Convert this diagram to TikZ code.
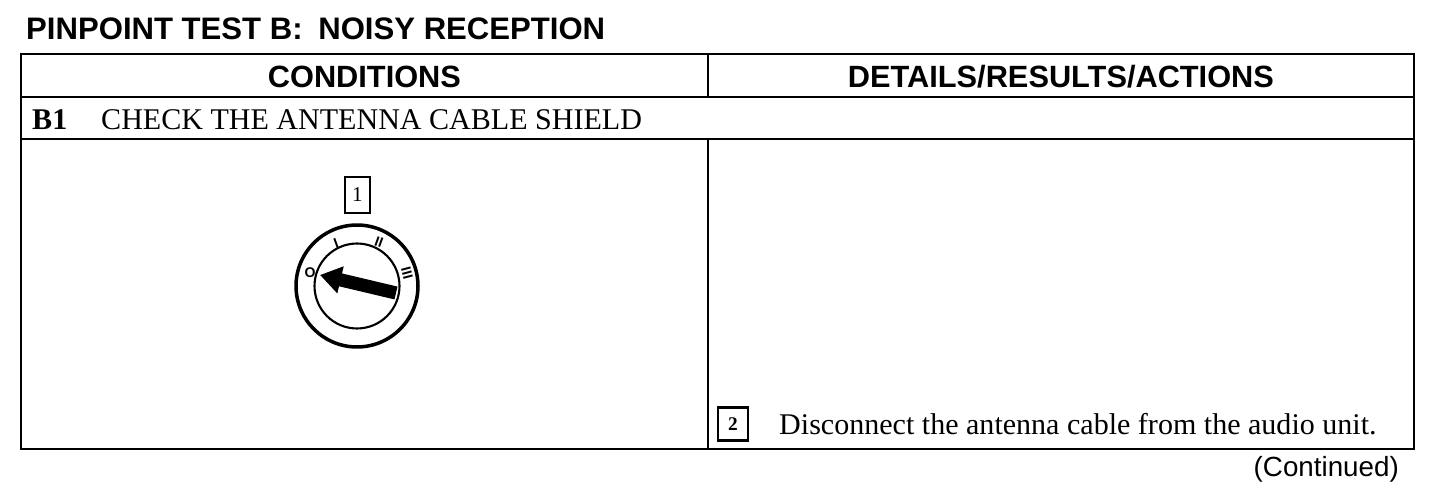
\documentclass[tikz,border=0pt]{standalone}
\usepackage{fontspec}
\setmainfont{Liberation Serif}
\setsansfont{Liberation Sans}
\usetikzlibrary{positioning,arrows.meta}
\begin{document}
\begin{tikzpicture}[x=0.02cm, y=-0.02cm, line width=1.4pt]
    \tikzstyle{cell}=[draw, anchor=north west, inner sep=0pt, outer sep=0pt]
    \tikzstyle{headtxt}=[font=\sffamily\bfseries\fontsize{17.5}{20}\selectfont, text height=14.2pt, text depth=0pt]
    \tikzstyle{bodytxt}=[font=\fontsize{17.1}{20}\selectfont, inner sep=0pt]
    \tikzstyle{numbox}=[draw, line width=1.2pt, inner sep=0pt, font=\fontsize{11}{12}\selectfont\bfseries]
    \tikzstyle{dialmark}=[inner sep=0pt, font=\sffamily\fontsize{8}{9}\selectfont\bfseries]

    \useasboundingbox (0,0) rectangle (1440,500);

    \node[font=\sffamily\bfseries\fontsize{17.7}{20}\selectfont, anchor=west, inner sep=0pt] (title) at (25,29) {PINPOINT TEST B:\hspace{4pt} NOISY RECEPTION};

    \node[cell, minimum width=13.74cm, minimum height=0.86cm, headtxt] (condhead) at (21,54) {CONDITIONS};
    \node[cell, minimum width=14.12cm, minimum height=0.86cm, headtxt] (detailhead) at (708,54) {DETAILS/RESULTS/ACTIONS};
    \node[cell, minimum width=27.86cm, minimum height=0.84cm] (steprow) at (21,97) {};
    \node[cell, minimum width=13.74cm, minimum height=6.2cm] (condcell) at (21,139) {};
    \node[cell, minimum width=14.12cm, minimum height=6.2cm] (detailcell) at (708,139) {};

    \node[bodytxt, anchor=west] (stepid) at (31,120) {\textbf{B1}};
    \node[bodytxt, anchor=west] (steptxt) at (100,120) {CHECK THE ANTENNA CABLE SHIELD};

    \node[numbox, minimum width=0.5cm, minimum height=0.72cm, font=\fontsize{12}{13}\selectfont] (numone) at (357.5,195) {1};

    % ignition key dial
    \node[circle, draw, line width=2pt, minimum size=2.44cm] (dialouter) at (357,286) {};
    \node[circle, draw, line width=1.2pt, minimum size=1.7cm] (dialinner) at (357,286) {};
    \coordinate (keytail) at (396,293);
    \coordinate (keytip) at (320,275);
    \draw[line width=7.5pt, {-Triangle[width=15pt, length=12pt]}] (keytail) -- (keytip);
    \node[dialmark] (markoff) at (310,273) {O};
    \node[dialmark, rotate=20] (markone) at (336,243) {I};
    \node[dialmark, rotate=-20] (marktwo) at (379,242) {II};
    \node[dialmark, rotate=-75] (markthree) at (407,273) {III};

    \node[numbox, minimum width=0.6cm, minimum height=0.66cm] (numtwo) at (733,424) {2};
    \node[bodytxt, anchor=west] (disconnect) at (778,424) {Disconnect the antenna cable from the audio unit.};

    \node[font=\sffamily\fontsize{15.8}{18}\selectfont, inner sep=0pt, anchor=east] (contd) at (1400,469) {(Continued)};
\end{tikzpicture}
\end{document}
